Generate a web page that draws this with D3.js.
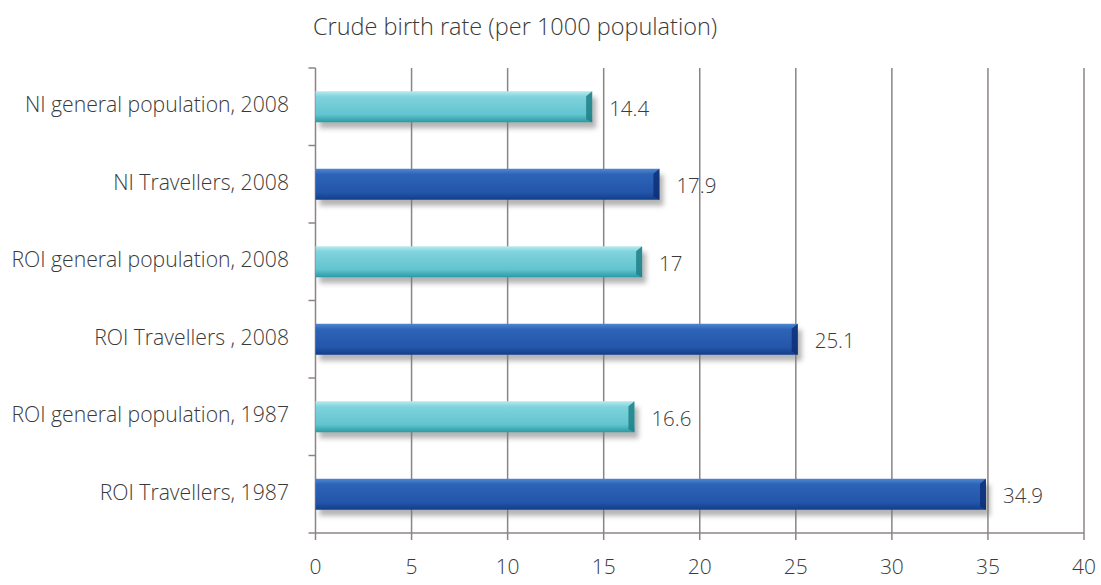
<!DOCTYPE html>
<html>
<head>
<meta charset="utf-8">
<script src="https://cdn.jsdelivr.net/npm/d3@7"></script>
<style>
  body { margin: 0; background: #fff; }
  text { font-family: "Open Sans", "Noto Sans", sans-serif; fill: #3a3a3a; font-weight: 300; }
</style>
</head>
<body>
<svg id="chart" width="1101" height="585"></svg>
<script>
// chart data
var categories = [
    "NI general population, 2008",
    "NI Travellers, 2008",
    "ROI general population, 2008",
    "ROI Travellers , 2008",
    "ROI general population, 1987",
    "ROI Travellers, 1987"
];
var values = [14.4, 17.9, 17, 25.1, 16.6, 34.9];
var kinds = ["general", "travellers", "general", "travellers", "general", "travellers"];
var xTicks = [0, 5, 10, 15, 20, 25, 30, 35, 40];
var title = "Crude birth rate (per 1000 population)";

var svg = d3.select("#chart");
var plotLeft = 315.5, plotRight = 1084, plotTop = 68, plotBottom = 533;

var x = d3.scaleLinear().domain([0, 40]).range([plotLeft, plotRight]);
var y = d3.scaleBand().domain(categories).range([plotTop, plotBottom]).paddingInner(0.6).paddingOuter(0.3);
var band = d3.scaleBand().domain(categories).range([plotTop, plotBottom]);

var defs = svg.append("defs");
var palettes = {
    general: ["#b8e9ee", "#7fd3dc", "#62c4cf", "#2a9aa4"],
    travellers: ["#4f86d0", "#2d64b8", "#2456aa", "#123e8a"]
};
Object.keys(palettes).forEach(function(k) {
    var g = defs.append("linearGradient").attr("id", "grad-" + k)
        .attr("x1", 0).attr("y1", 0).attr("x2", 0).attr("y2", 1);
    var c = palettes[k];
    g.append("stop").attr("offset", "0%").attr("stop-color", c[0]);
    g.append("stop").attr("offset", "18%").attr("stop-color", c[1]);
    g.append("stop").attr("offset", "75%").attr("stop-color", c[2]);
    g.append("stop").attr("offset", "100%").attr("stop-color", c[3]);
});
defs.append("filter").attr("id", "shadow").attr("x", "-5%").attr("y", "-50%").attr("width", "110%").attr("height", "200%")
    .append("feGaussianBlur").attr("stdDeviation", 2.5);

// title
svg.append("text").attr("x", 313).attr("y", 35)
    .style("font-size", "23.5px").text(title);

// vertical grid lines (extend below the axis as ticks)
svg.append("g").selectAll("line").data(xTicks).enter().append("line")
    .attr("x1", function(d) { return x(d); })
    .attr("x2", function(d) { return x(d); })
    .attr("y1", plotTop).attr("y2", plotBottom + 7)
    .attr("stroke", "#8c8484").attr("stroke-width", 1.5);

// bottom axis line
svg.append("line").attr("x1", plotLeft).attr("x2", plotRight).attr("y1", plotBottom).attr("y2", plotBottom)
    .attr("stroke", "#8c8484").attr("stroke-width", 1.5);

// left axis ticks at category boundaries
var bounds = categories.map(function(c) { return band(c); }).concat([plotBottom]);
svg.append("g").selectAll("line").data(bounds).enter().append("line")
    .attr("x1", plotLeft - 7).attr("x2", plotLeft)
    .attr("y1", function(d) { return d; }).attr("y2", function(d) { return d; })
    .attr("stroke", "#8c8484").attr("stroke-width", 1.5);

// x tick labels
svg.append("g").selectAll("text").data(xTicks).enter().append("text")
    .attr("x", function(d) { return x(d); })
    .attr("y", 574)
    .attr("text-anchor", "middle")
    .style("font-size", "21px")
    .text(function(d) { return d; });

// category labels
svg.append("g").selectAll("text").data(categories).enter().append("text")
    .attr("x", 289)
    .attr("y", function(d) { return band(d) + band.bandwidth() / 2 - 2; })
    .attr("dy", "0.35em")
    .attr("text-anchor", "end")
    .style("font-size", "21.2px")
    .text(function(d) { return d; });

var bars = svg.append("g").selectAll("g").data(values).enter().append("g");

// soft shadow under each bar
bars.append("rect")
    .attr("x", x(0) + 4)
    .attr("y", function(d, i) { return y(categories[i]) + 6; })
    .attr("width", function(d) { return x(d) - x(0); })
    .attr("height", y.bandwidth())
    .attr("fill", "#777").attr("opacity", 0.55)
    .attr("filter", "url(#shadow)");

bars.append("rect")
    .attr("x", x(0))
    .attr("y", function(d, i) { return y(categories[i]); })
    .attr("width", function(d) { return x(d) - x(0); })
    .attr("height", y.bandwidth())
    .attr("fill", function(d, i) { return "url(#grad-" + kinds[i] + ")"; });

// bevelled right end
bars.append("path")
    .attr("d", function(d, i) {
        var x1 = x(d), y0 = y(categories[i]), h = y.bandwidth();
        return "M" + (x1 - 6) + "," + (y0 + 5) + "L" + x1 + "," + y0 + "L" + x1 + "," + (y0 + h) +
            "L" + (x1 - 6) + "," + (y0 + h - 3) + "Z";
    })
    .attr("fill", function(d, i) { return kinds[i] === "general" ? "#1f7f86" : "#0f2f78"; })
    .attr("opacity", 0.85);

// value labels
bars.append("text")
    .attr("x", function(d) { return x(d) + 17; })
    .attr("y", function(d, i) { return y(categories[i]) + y.bandwidth() / 2 + 2; })
    .attr("dy", "0.35em")
    .style("font-size", "20.5px")
    .text(function(d) { return d; });
</script>
</body>
</html>
